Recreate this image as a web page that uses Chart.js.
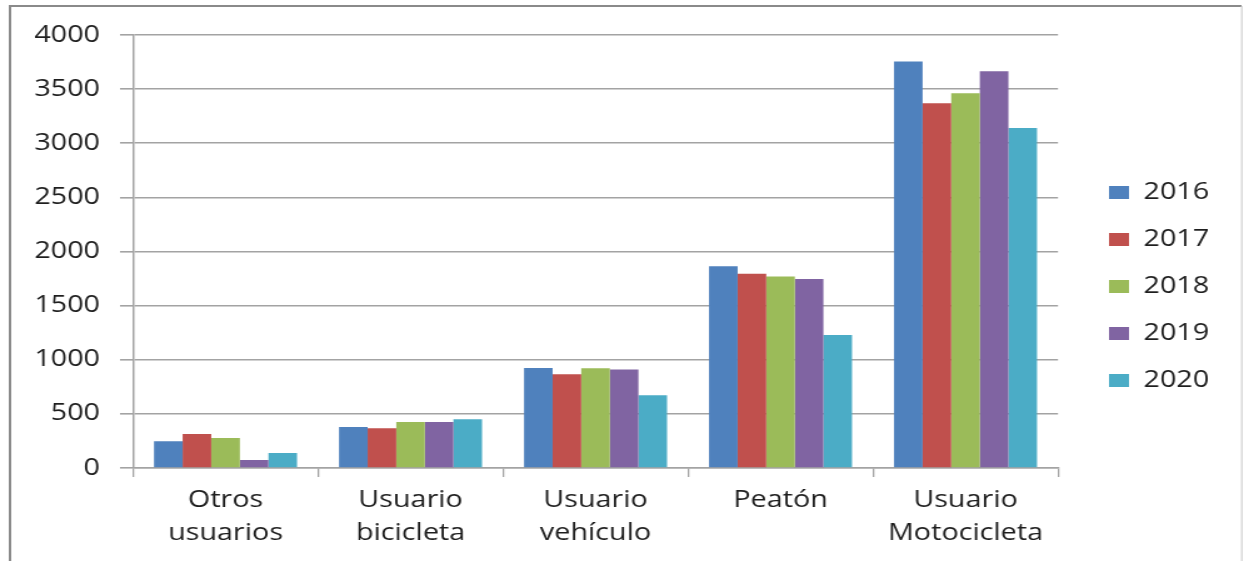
<!DOCTYPE html>
<html>
<head>
<meta charset="utf-8">
<script src="https://cdn.jsdelivr.net/npm/chart.js@4"></script>
<style>
  html, body { margin: 0; padding: 0; background: #fff; overflow: hidden; }
  /* the chart is laid out narrow and widened, so the text comes out broad */
  #chartCont { width: 995px; height: 561px; transform: scaleX(1.2503); transform-origin: 0 0; }
</style>
</head>
<body>
<div id="chartCont"><canvas id="myChart"></canvas></div>
<script>
const categories = [
  ["Otros", "usuarios"],
  ["Usuario", "bicicleta"],
  ["Usuario", "vehículo"],
  "Peatón",
  ["Usuario", "Motocicleta"],
];
const years = ["2016", "2017", "2018", "2019", "2020"];

const v2016 = [247, 379, 924, 1863, 3756];
const v2017 = [314, 367, 865, 1795, 3369];
const v2018 = [277, 425, 921, 1770, 3461];
const v2019 = [74, 425, 911, 1746, 3665];
const v2020 = [139, 450, 671, 1229, 3140];

const yTicks = [0, 500, 1000, 1500, 2000, 2500, 3000, 3500, 4000];

let colors = ["#4F81BD", "#C0504D", "#9BBB59", "#8064A2", "#4BACC6"];
let series = [v2016, v2017, v2018, v2019, v2020];

const font = { family: "Open Sans", size: 23 };
const gridColor = "#a3a3a3";

// outer frame of the figure
const frame = {
  id: "frame",
  beforeDraw(chart) {
    const ctx = chart.ctx;
    ctx.save();
    ctx.strokeStyle = "#8a8a8a";
    ctx.lineWidth = 2;
    ctx.beginPath();
    ctx.moveTo(8, 570);
    ctx.lineTo(8, 6);
    ctx.lineTo(993, 6);
    ctx.stroke();
    ctx.strokeStyle = "#cfcfcf";
    ctx.lineWidth = 1.2;
    ctx.beginPath();
    ctx.moveTo(993.2, 6);
    ctx.lineTo(993.2, 570);
    ctx.stroke();
    ctx.restore();
  },
};

// keep the legend column at a fixed spot right of the plot
const legendSpot = {
  id: "legendSpot",
  beforeLayout(chart) {
    const lg = chart.legend;
    if (lg && !lg._fixedWidth) {
      const fit = lg.fit.bind(lg);
      lg.fit = function () {
        fit();
        this.width = 148.8;
      };
      lg._fixedWidth = true;
    }
  },
  afterLayout(chart) {
    const lg = chart.legend;
    lg.left = 863;
    lg.right = lg.left + lg.width;
    lg.top = 10;
    lg.bottom = 563;
    lg.height = lg.bottom - lg.top;
  },
};

let _datasets = [];
years.map((y, index) => {
  _datasets.push({
    label: y,
    data: series[index],
    backgroundColor: colors[index],
    borderWidth: 0,
  });
});

const ctx = document.getElementById("myChart");

const chart = new Chart(ctx, {
  type: "bar",
  data: {
    labels: categories,
    datasets: _datasets,
  },
  plugins: [frame, legendSpot],
  options: {
    responsive: true,
    maintainAspectRatio: false,
    animation: false,
    layout: { padding: { top: 35, left: 0, right: 0, bottom: 0 } },
    datasets: {
      bar: { categoryPercentage: 0.773, barPercentage: 1 },
    },
    scales: {
      x: {
        grid: {
          drawOnChartArea: false,
          color: gridColor,
          lineWidth: 1.3,
          tickLength: 9,
        },
        border: { color: gridColor, width: 1.5 },
        ticks: {
          font: { family: font.family, size: font.size, lineHeight: 1.43 },
          color: "#1e1e1e",
          padding: 7,
          maxRotation: 0,
          autoSkip: false,
        },
        afterFit: (scale) => {
          scale.height = 93;
        },
      },
      y: {
        min: 0,
        max: 4000,
        afterBuildTicks: (scale) => {
          scale.ticks = yTicks.map((v) => ({ value: v }));
        },
        grid: {
          color: gridColor,
          lineWidth: 1.6,
          tickLength: 10.4,
        },
        border: { color: gridColor, width: 1.5 },
        ticks: {
          font: font,
          color: "#1e1e1e",
          padding: 16,
          callback: (value) => String(value),
        },
        afterFit: (scale) => {
          scale.width = 106.4;
        },
      },
    },
    plugins: {
      legend: {
        position: "right",
        labels: {
          boxWidth: 16,
          boxHeight: 13,
          padding: 24,
          font: font,
          color: "#1e1e1e",
        },
      },
      tooltip: { enabled: false },
    },
  },
});
</script>
</body>
</html>
